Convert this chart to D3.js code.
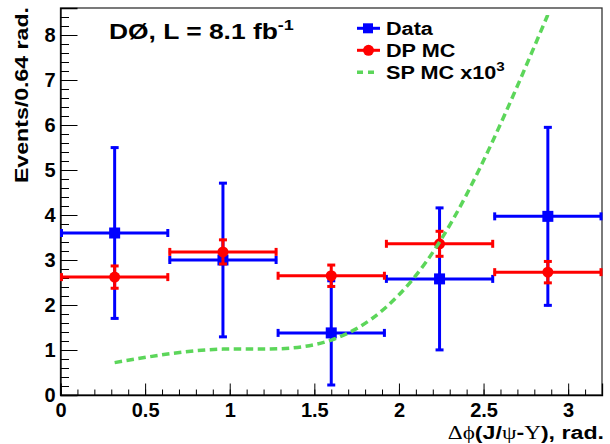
<!DOCTYPE html>
<html>
<head>
<meta charset="utf-8">
<script src="https://cdn.jsdelivr.net/npm/d3@7"></script>
<style>
    body { margin: 0; background: white; }
    svg text { font-family: "Liberation Sans", Arial, sans-serif; font-weight: bold; fill: black; }
    .sym { font-family: "Liberation Serif", "DejaVu Serif", serif; font-weight: normal; }
</style>
</head>
<body>
<svg id="chart" width="610" height="444"></svg>
<script>
    // bins of 0.64 rad
    const binCenters = [0.32, 0.96, 1.6, 2.24, 2.88];
    const binHalfWidth = 0.32;

    const dataValues = [3.6, 3.0, 1.38, 2.58, 3.97];
    const dataErrors = [1.92, 1.73, 1.18, 1.6, 2.0];

    const dpValues = [2.62, 3.18, 2.65, 3.36, 2.73];
    const dpErrors = [0.27, 0.29, 0.26, 0.3, 0.26];

    const spValues = [0.72, 1.02, 1.22, 3.4, 8.45];

    const xTicks = [0, 0.5, 1, 1.5, 2, 2.5, 3];
    const yTicks = [0, 1, 2, 3, 4, 5, 6, 7, 8];

    const svg = d3.select("#chart");

    const frame = {left: 60.5, right: 602, top: 8, bottom: 395};

    const x = d3.scaleLinear().domain([0, 3.2]).range([frame.left, frame.right]);
    const y = d3.scaleLinear().domain([0, 8.6]).range([frame.bottom, frame.top]);

    // frame
    svg.append("rect")
        .attr("x", frame.left)
        .attr("y", frame.top)
        .attr("width", frame.right - frame.left)
        .attr("height", frame.bottom - frame.top)
        .attr("fill", "none")
        .attr("stroke", "#333")
        .attr("stroke-width", 1.3);

    // x axis, ticks pointing inside
    const xMinor = d3.range(0, 3.21, 0.1).map(v => +v.toFixed(2));
    svg.append("g")
        .attr("transform", `translate(0,${frame.bottom})`)
        .call(d3.axisBottom(x).tickValues(xMinor).tickSize(-5.5).tickFormat(""))
        .call(g => g.select(".domain").remove());
    const xAxis = svg.append("g")
        .attr("transform", `translate(0,${frame.bottom})`)
        .call(d3.axisBottom(x).tickValues(xTicks).tickSize(-11.5).tickPadding(8)
            .tickFormat(d => d3.format("")(d)));
    xAxis.select(".domain").attr("stroke-width", 1.3);
    xAxis.selectAll("text").attr("font-size", 20).attr("font-family", null);

    // y axis
    const yMinor = d3.range(0, 8.61, 0.2).map(v => +v.toFixed(2));
    svg.append("g")
        .attr("transform", `translate(${frame.left},0)`)
        .call(d3.axisLeft(y).tickValues(yMinor).tickSize(-8.5).tickFormat(""))
        .call(g => g.select(".domain").remove());
    const yAxis = svg.append("g")
        .attr("transform", `translate(${frame.left},0)`)
        .call(d3.axisLeft(y).tickValues(yTicks).tickSize(-17).tickPadding(5));
    yAxis.select(".domain").attr("stroke-width", 1.3);
    yAxis.selectAll("text").attr("font-size", 20).attr("font-family", null);

    // error bar helper
    function drawPoints(values, errors, color, marker) {
        const g = svg.append("g")
            .attr("stroke", color)
            .attr("stroke-width", 3)
            .attr("fill", color);
        const pts = binCenters.map((c, i) => ({c: c, v: values[i], e: errors[i]}));
        const cap = 4;

        // horizontal bars
        g.selectAll(".hbar").data(pts).enter().append("line")
            .attr("x1", d => x(d.c - binHalfWidth)).attr("x2", d => x(d.c + binHalfWidth))
            .attr("y1", d => y(d.v)).attr("y2", d => y(d.v));
        g.selectAll(".hcapL").data(pts).enter().append("line")
            .attr("x1", d => x(d.c - binHalfWidth) + 1).attr("x2", d => x(d.c - binHalfWidth) + 1)
            .attr("y1", d => y(d.v) - cap).attr("y2", d => y(d.v) + cap);
        g.selectAll(".hcapR").data(pts).enter().append("line")
            .attr("x1", d => x(d.c + binHalfWidth) - 1).attr("x2", d => x(d.c + binHalfWidth) - 1)
            .attr("y1", d => y(d.v) - cap).attr("y2", d => y(d.v) + cap);

        // vertical bars
        g.selectAll(".vbar").data(pts).enter().append("line")
            .attr("x1", d => x(d.c)).attr("x2", d => x(d.c))
            .attr("y1", d => y(d.v - d.e)).attr("y2", d => y(d.v + d.e));
        g.selectAll(".vcapT").data(pts).enter().append("line")
            .attr("x1", d => x(d.c) - cap).attr("x2", d => x(d.c) + cap)
            .attr("y1", d => y(d.v + d.e) + 1).attr("y2", d => y(d.v + d.e) + 1);
        g.selectAll(".vcapB").data(pts).enter().append("line")
            .attr("x1", d => x(d.c) - cap).attr("x2", d => x(d.c) + cap)
            .attr("y1", d => y(d.v - d.e) - 1).attr("y2", d => y(d.v - d.e) - 1);

        if (marker === "square") {
            g.selectAll(".mk").data(pts).enter().append("rect")
                .attr("x", d => x(d.c) - 5.5).attr("y", d => y(d.v) - 5.5)
                .attr("width", 11).attr("height", 11).attr("stroke", "none");
        } else {
            g.selectAll(".mk").data(pts).enter().append("circle")
                .attr("cx", d => x(d.c)).attr("cy", d => y(d.v))
                .attr("r", 5.5).attr("stroke", "none");
        }
    }

    drawPoints(dataValues, dataErrors, "#0000ff", "square");
    drawPoints(dpValues, dpErrors, "#ff0000", "circle");

    // SP MC x10^3 smooth curve
    const spLine = d3.line()
        .x((d, i) => x(binCenters[i]))
        .y(d => y(d))
        .curve(d3.curveNatural);
    svg.append("path")
        .attr("d", spLine(spValues))
        .attr("fill", "none")
        .attr("stroke", "#5cd65a")
        .attr("stroke-width", 3.5)
        .attr("stroke-dasharray", "7.5,4.5");

    // title
    const title = svg.append("text")
        .attr("transform", "translate(109,39) scale(1.2,1)")
        .attr("font-size", 22);
    title.append("tspan").text("DØ, L = 8.1 fb");
    title.append("tspan").attr("font-size", 15).attr("dy", -9).text("-1");

    // legend
    const legend = [
        {label: "Data", color: "#0000ff", marker: "square"},
        {label: "DP MC", color: "#ff0000", marker: "circle"},
        {label: "SP MC x10", sup: "3", color: "#5cd65a", marker: "dash"}
    ];
    const lg = svg.append("g");
    legend.forEach((d, i) => {
        const by = 35 + i * 22;
        const cy = by - 6.7;
        if (d.marker === "dash") {
            lg.append("line")
                .attr("x1", 357).attr("x2", 375).attr("y1", cy).attr("y2", cy)
                .attr("stroke", d.color).attr("stroke-width", 3.5)
                .attr("stroke-dasharray", "6,5");
        } else {
            lg.append("line")
                .attr("x1", 357).attr("x2", 380).attr("y1", cy).attr("y2", cy)
                .attr("stroke", d.color).attr("stroke-width", 3);
            if (d.marker === "square") {
                lg.append("rect").attr("x", 363).attr("y", cy - 5).attr("width", 10).attr("height", 10)
                    .attr("fill", d.color);
            } else {
                lg.append("circle").attr("cx", 368.5).attr("cy", cy).attr("r", 5.5).attr("fill", d.color);
            }
        }
        const t = lg.append("text")
            .attr("transform", `translate(386,${by}) scale(1.17,1)`)
            .attr("font-size", 18.5);
        t.append("tspan").text(d.label);
        if (d.sup) {
            t.append("tspan").attr("font-size", 13).attr("dy", -8).text(d.sup);
        }
    });

    // axis titles
    svg.append("text")
        .attr("transform", "translate(28,7) rotate(-90) scale(1.25,1)")
        .attr("text-anchor", "end")
        .attr("font-size", 18.5)
        .text("Events/0.64 rad.");

    const xt = svg.append("text")
        .attr("transform", "translate(604,439) scale(1.22,1)")
        .attr("text-anchor", "end")
        .attr("font-size", 19);
    xt.append("tspan").attr("class", "sym").text("Δϕ");
    xt.append("tspan").text("(J/");
    xt.append("tspan").attr("class", "sym").text("ψ");
    xt.append("tspan").text("-");
    xt.append("tspan").attr("class", "sym").text("Υ");
    xt.append("tspan").text("), rad.");
</script>
</body>
</html>
